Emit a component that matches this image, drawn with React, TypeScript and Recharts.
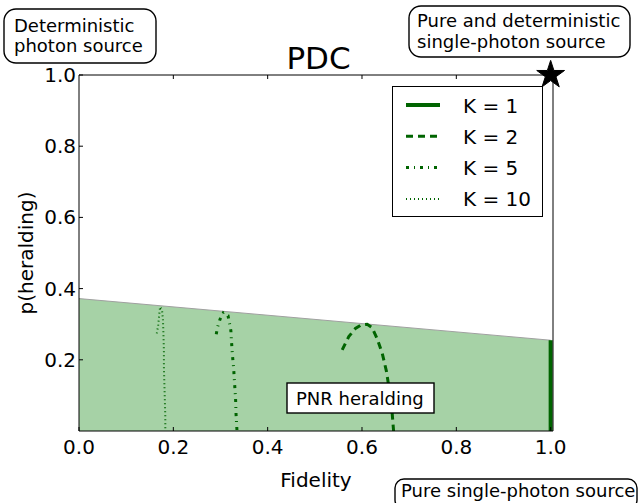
import React from 'react';
import { ComposedChart, XAxis, YAxis, Area, Line, Scatter, Legend, Symbols } from 'recharts';

// ---- data ----
const boundFidelity = [0, 1];
const boundHerald = [0.372, 0.255];

const k1Fidelity = [1, 1];
const k1Herald = [0, 0.255];

const k2Fidelity = [0.558, 0.572, 0.586, 0.598, 0.611, 0.621, 0.632, 0.643, 0.652, 0.659, 0.664, 0.667];
const k2Herald = [0.228, 0.265, 0.288, 0.298, 0.3, 0.291, 0.26, 0.218, 0.167, 0.106, 0.05, 0.0];

const k5Fidelity = [0.291, 0.294, 0.299, 0.306, 0.316, 0.319, 0.322, 0.323, 0.325, 0.328, 0.33, 0.332, 0.333, 0.335];
const k5Herald = [0.272, 0.293, 0.314, 0.332, 0.324, 0.303, 0.282, 0.259, 0.218, 0.174, 0.131, 0.09, 0.047, 0.0];

const k10Fidelity = [0.165, 0.168, 0.17, 0.172, 0.176, 0.178, 0.179, 0.18, 0.18, 0.181, 0.182, 0.183, 0.183];
const k10Herald = [0.274, 0.298, 0.326, 0.349, 0.34, 0.312, 0.274, 0.228, 0.181, 0.134, 0.087, 0.04, 0.0];

const starFidelity = [1];
const starHerald = [1];

const xTicks = [0, 0.2, 0.4, 0.6, 0.8, 1.0];
const yTicks = [0.2, 0.4, 0.6, 0.8, 1.0];
const frameXTicks = [0.2, 0.4, 0.6, 0.8];
const frameYTicks = [0.2, 0.4, 0.6, 0.8];

const seriesNames = ['K = 1', 'K = 2', 'K = 5', 'K = 10'];

// ---- build tables ----
const zip = (xs: number[], ys: number[]) => xs.map((x, i) => ({ x, y: ys[i] }));
const boundData = boundFidelity.map((x, i) => ({ x, p: boundHerald[i] }));
const k1Data = zip(k1Fidelity, k1Herald);
const k2Data = zip(k2Fidelity, k2Herald);
const k5Data = zip(k5Fidelity, k5Herald);
const k10Data = zip(k10Fidelity, k10Herald);
const starData = zip(starFidelity, starHerald);

const GREEN = '#006400';
const FONT = "'DejaVu Sans', 'Bitstream Vera Sans', sans-serif";

const seriesStyles = [
  { width: 4, dash: undefined as string | undefined },
  { width: 3, dash: '7 5' },
  { width: 3, dash: '3 5 1 5' },
  { width: 2, dash: '1 3' },
];

const XTickBottom = (p: any) => (
  <g>
    <line x1={p.x} x2={p.x} y1={p.y} y2={p.y - 4} stroke="#000" strokeWidth={1} />
    <text x={p.x} y={p.y + 23} textAnchor="middle" fontSize={20} fontFamily={FONT} fill="#000">
      {Number(p.payload.value).toFixed(1)}
    </text>
  </g>
);

const YTickLeft = (p: any) => (
  <g>
    <line x1={p.x} x2={p.x + 4} y1={p.y} y2={p.y} stroke="#000" strokeWidth={1} />
    <text x={p.x - 3} y={p.y + 7} textAnchor="end" fontSize={20} fontFamily={FONT} fill="#000">
      {Number(p.payload.value).toFixed(1)}
    </text>
  </g>
);

const XTickTop = (p: any) => (
  <line x1={p.x} x2={p.x} y1={p.y} y2={p.y + 4} stroke="#000" strokeWidth={1} />
);

const YTickRight = (p: any) => (
  <line x1={p.x} x2={p.x - 4} y1={p.y} y2={p.y} stroke="#000" strokeWidth={1} />
);

const LegendBox = () => (
  <svg width={151} height={131} style={{ display: 'block' }}>
    <rect x={0.5} y={0.5} width={150} height={130} fill="#fff" stroke="#000" strokeWidth={1} />
    {seriesNames.map((name, i) => {
      const cy = 19 + i * 31.3;
      const s = seriesStyles[i];
      return (
        <g key={name}>
          <line x1={14} x2={48} y1={cy} y2={cy} stroke={GREEN} strokeWidth={s.width} strokeDasharray={s.dash} />
          <text x={71} y={cy + 7.5} fontSize={20} fontFamily={FONT} fill="#000">{name}</text>
        </g>
      );
    })}
  </svg>
);

const StarShape = (p: any) => <Symbols cx={p.cx} cy={p.cy} type="star" size={240} fill="#000" stroke="#000" />;

const RoundBox = ({ x, y, w, h, lines, tx, baselines, rx }: any) => (
  <g>
    <rect x={x} y={y} width={w} height={h} rx={rx} ry={rx} fill="#fff" stroke="#000" strokeWidth={1.4} />
    {lines.map((t: string, i: number) => (
      <text key={i} x={tx} y={baselines[i]} fontSize={18} fontFamily={FONT} fill="#000">{t}</text>
    ))}
  </g>
);

export default function App() {
  return (
    <div style={{ position: 'absolute', left: 0, top: 0, width: 641, height: 503, background: '#fff', fontFamily: FONT }}>
      <ComposedChart width={641} height={503} data={boundData} margin={{ top: 0, right: 0, bottom: 0, left: 0 }}>
        <XAxis
          xAxisId={0}
          dataKey="x"
          type="number"
          domain={[0, 1.005]}
          ticks={xTicks}
          height={72}
          tickSize={0}
          tickMargin={0}
          tickLine={false}
          axisLine={{ stroke: '#000', strokeWidth: 1 }}
          tick={XTickBottom}
          interval={0}
        />
        <XAxis
          xAxisId="top"
          orientation="top"
          dataKey="x"
          type="number"
          domain={[0, 1.005]}
          ticks={frameXTicks}
          height={75}
          tickSize={0}
          tickMargin={0}
          tickLine={false}
          axisLine={{ stroke: '#000', strokeWidth: 1 }}
          tick={XTickTop}
          interval={0}
        />
        <YAxis
          yAxisId={0}
          type="number"
          domain={[0, 1]}
          ticks={yTicks}
          width={79}
          tickSize={0}
          tickMargin={0}
          tickLine={false}
          axisLine={{ stroke: '#000', strokeWidth: 1 }}
          tick={YTickLeft}
          interval={0}
        />
        <YAxis
          yAxisId="right"
          orientation="right"
          type="number"
          domain={[0, 1]}
          ticks={frameYTicks}
          width={88}
          tickSize={0}
          tickMargin={0}
          tickLine={false}
          axisLine={{ stroke: '#000', strokeWidth: 1 }}
          tick={YTickRight}
          interval={0}
        />
        <Area
          xAxisId={0}
          yAxisId={0}
          type="linear"
          dataKey="p"
          fill="#a6d2a6"
          fillOpacity={1}
          stroke="#a0a0a0"
          strokeWidth={1}
          dot={false}
          activeDot={false}
          isAnimationActive={false}
        />
        <Line xAxisId={0} yAxisId={0} data={k10Data} dataKey="y" type="linear" stroke={GREEN} strokeWidth={2} strokeDasharray="1 3" dot={false} activeDot={false} isAnimationActive={false} />
        <Line xAxisId={0} yAxisId={0} data={k5Data} dataKey="y" type="linear" stroke={GREEN} strokeWidth={3} strokeDasharray="3 5 1 5" dot={false} activeDot={false} isAnimationActive={false} />
        <Line xAxisId={0} yAxisId={0} data={k2Data} dataKey="y" type="linear" stroke={GREEN} strokeWidth={3} strokeDasharray="7 5" dot={false} activeDot={false} isAnimationActive={false} />
        <Line xAxisId={0} yAxisId={0} data={k1Data} dataKey="y" type="linear" stroke={GREEN} strokeWidth={4} dot={false} activeDot={false} isAnimationActive={false} />
        <Scatter xAxisId={0} yAxisId={0} data={starData} dataKey="y" shape={StarShape} isAnimationActive={false} />
        <Legend
          layout="vertical"
          align="center"
          verticalAlign="middle"
          wrapperStyle={{ left: 392, top: 86, width: 151, height: 131 }}
          content={LegendBox}
        />
      </ComposedChart>
      <svg width={641} height={503} style={{ position: 'absolute', left: 0, top: 0, pointerEvents: 'none' }}>
        <text x={318.5} y={69} textAnchor="middle" fontSize={31} fontFamily={FONT} fill="#000">PDC</text>
        <text x={316} y={487} textAnchor="middle" fontSize={20} fontFamily={FONT} fill="#000">Fidelity</text>
        <text transform="translate(33,253) rotate(-90)" textAnchor="middle" fontSize={20} fontFamily={FONT} fill="#000">p(heralding)</text>
        <RoundBox x={4} y={9} w={152} h={54} rx={12} tx={14} lines={['Deterministic', 'photon source']} baselines={[31.5, 52]} />
        <RoundBox x={409} y={6} w={221} h={51} rx={12} tx={417} lines={['Pure and deterministic', 'single-photon source']} baselines={[27, 48]} />
        <RoundBox x={287} y={383} w={147} h={30} rx={0} tx={296} lines={['PNR heralding']} baselines={[405]} />
        <RoundBox x={395} y={479} w={242} h={30} rx={9} tx={401} lines={['Pure single-photon source']} baselines={[497]} />
      </svg>
    </div>
  );
}
